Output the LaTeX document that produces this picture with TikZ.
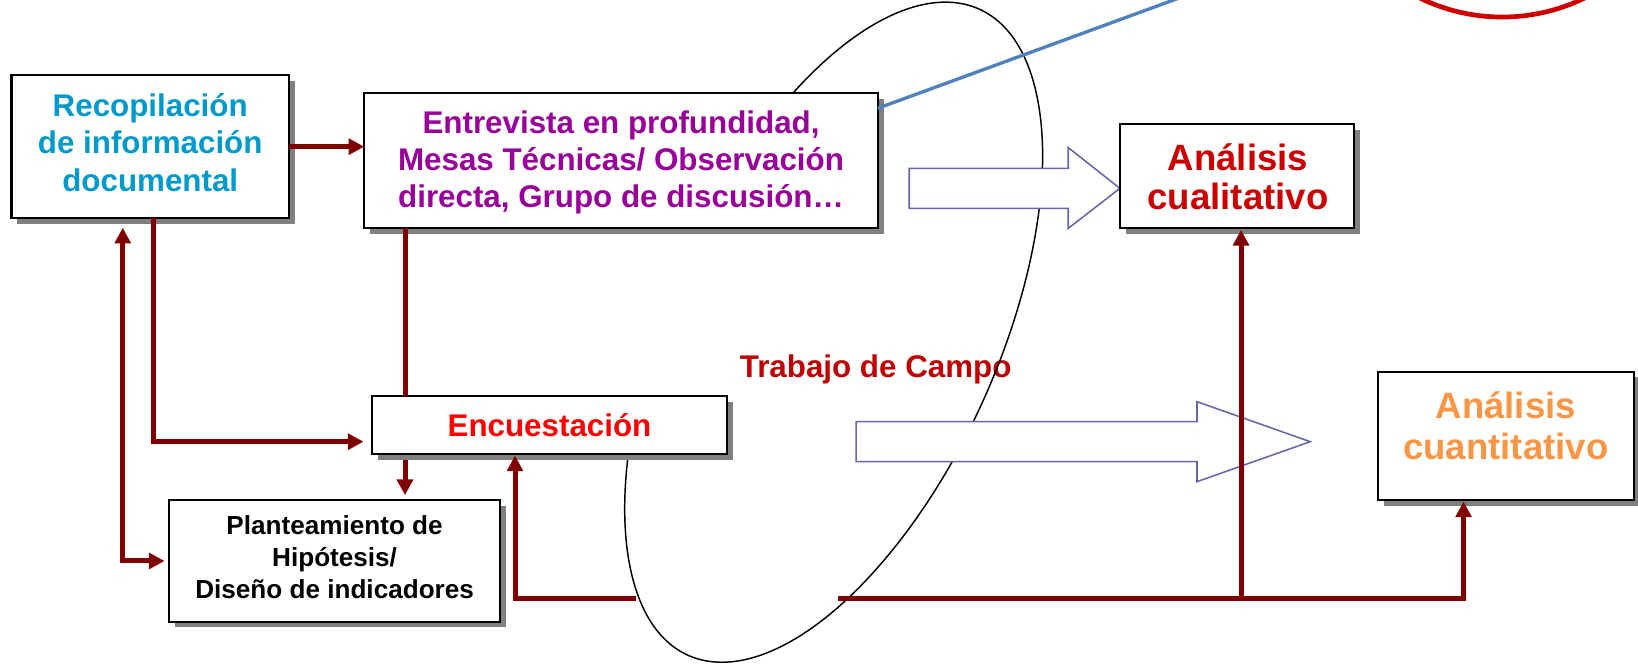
\documentclass[tikz,border=0pt]{standalone}
\usepackage{fontspec}
\setmainfont{Liberation Sans}
\usetikzlibrary{arrows.meta,shadows}
\definecolor{dred}{RGB}{128,0,0}
\definecolor{shadowgray}{RGB}{128,128,128}
\definecolor{recopc}{RGB}{0,153,204}
\definecolor{purp}{RGB}{153,0,153}
\definecolor{cualc}{RGB}{204,0,0}
\definecolor{trabc}{RGB}{192,0,0}
\definecolor{encuc}{RGB}{255,0,0}
\definecolor{cuanc}{RGB}{248,150,70}
\definecolor{hollowc}{RGB}{102,102,170}
\definecolor{bluec}{RGB}{79,129,189}
\definecolor{circc}{RGB}{208,0,0}
\begin{document}
\begin{tikzpicture}[x=1pt,y=-1pt,
  box/.style={draw=black, line width=2pt, fill=white, rectangle, inner sep=0pt, outer sep=0pt,
    drop shadow={shadow xshift=5.5pt, shadow yshift=-5.5pt, fill=shadowgray, opacity=1}},
  ln/.style={anchor=base, inner sep=0pt},
  f30/.style={font=\fontsize{30}{36}\selectfont\bfseries},
  f35/.style={font=\fontsize{35}{42}\selectfont\bfseries},
  f25/.style={font=\fontsize{25}{30}\selectfont\bfseries},
  conn/.style={draw=dred, line width=4.8pt},
  tip/.style={-{Triangle[length=15pt,width=15pt]}},
  hollow/.style={draw=hollowc, line width=1.5pt, fill=white, line join=miter}]
\useasboundingbox (0,0) rectangle (1568,635);
\clip (0,0) rectangle (1568,635);

% red circle (top right, mostly outside)
\draw[circc, line width=4.5pt] (1438,-163) circle[radius=179.3pt];

% label Trabajo de Campo
\node[ln, anchor=base west, text=trabc, f30] (trab) at (708,361) {Trabajo de Campo};

% field-work loop (tilted ellipse arc)
\begin{scope}[shift={(798,318)}, rotate=65.75]
\draw[black, line width=1.4pt] (58:339.2pt and 157.4pt)
  arc[start angle=58, end angle=-238, x radius=339.2pt, y radius=157.4pt];
\end{scope}

% hollow block arrows
\draw[hollow] (870.4,161.1) -- (1022.6,161.1) -- (1022.6,141.3) -- (1072,180.3)
  -- (1022.6,218.6) -- (1022.6,199.4) -- (870.4,199.4) -- cycle;
\draw[hollow] (819.6,403.6) -- (1145.8,403.6) -- (1145.8,384.5) -- (1254.2,422.8)
  -- (1145.8,461.1) -- (1145.8,441.9) -- (819.6,441.9) -- cycle;

% boxes
\node[box, minimum width=265.6pt, minimum height=137.2pt] (recop) at (143.8,140.4) {};
\node[box, minimum width=491.6pt, minimum height=128.7pt] (entre) at (594.5,153.7) {};
\node[box, minimum width=224pt, minimum height=99.3pt] (cual) at (1184,168.4) {};
\node[box, minimum width=245pt, minimum height=122.8pt] (cuan) at (1441.5,417.2) {};
\node[box, minimum width=340pt, minimum height=55.5pt] (encu) at (526,406.8) {};
\node[box, minimum width=317.5pt, minimum height=116pt] (plan) at (320.3,537) {};

% texts (one node per printed line)
\begin{scope}[every node/.append style={text=recopc, f30}]
\node[ln] (recop1) at (143.8,111.7) {Recopilación};
\node[ln] (recop2) at (143.8,147.4) {de información};
\node[ln] (recop3) at (143.8,183.5) {documental};
\end{scope}
\begin{scope}[every node/.append style={text=purp, f30}]
\node[ln] (entre1) at (594.5,128) {Entrevista en profundidad,};
\node[ln] (entre2) at (594.5,163.5) {Mesas Técnicas/ Observación};
\node[ln] (entre3) at (594.5,199) {directa, Grupo de discusión…};
\end{scope}
\node[ln, text=cualc, f35] (cual1) at (1185,163.4) {Análisis};
\node[ln, text=cualc, f35] (cual2) at (1185,200.1) {cualitativo};
\node[ln, text=cuanc, f35] (cuan1) at (1441.4,400.8) {Análisis};
\node[ln, text=cuanc, f35] (cuan2) at (1441.4,439.7) {cuantitativo};
\node[ln, text=encuc, f30] (encu1) at (526,418) {Encuestación};
\node[ln, text=black, f25] (plan1) at (320.3,512) {Planteamiento de};
\node[ln, text=black, f25] (plan2) at (320.3,542.5) {Hipótesis/};
\node[ln, text=black, f25] (plan3) at (320.3,573) {Diseño de indicadores};

% blue line to the outside
\coordinate (bl) at (1180,-20.7);
\draw[bluec, line width=3.2pt] ([yshift=-14.3pt]entre.north east) -- (bl);

% connector coordinates
\coordinate (cA) at (146.6,422.8);
\coordinate (cB) at (117.5,537);
\coordinate (cC) at (387.7,0);
\coordinate (cD) at (493,572.5);
\coordinate (gL) at (608.5,572.5);
\coordinate (gR) at (802,572.5);
\coordinate (cE) at (1401,572.5);
\coordinate (cF) at (1188,572.5);

% connectors
\draw[conn, tip] (recop.east) -- (recop.east -| entre.west);
\draw[conn, tip, shorten >=8pt] (recop.south -| cA) |- (encu.west |- cA);
\draw[conn, {Triangle[length=15pt,width=15pt]}-{Triangle[length=15pt,width=15pt]}, shorten <=9pt, shorten >=4pt]
  (recop.south -| cB) |- (plan.west);
\draw[conn] (entre.south -| cC) -- (encu.north -| cC);
\draw[conn, tip, shorten <=6pt, shorten >=5pt] (encu.south -| cC) -- (plan.north -| cC);
\draw[conn, tip, shorten >=1.5pt] (gL) -- (cD) -- (encu.south -| cD);
\draw[conn, tip, shorten >=1.5pt] (gR) -- (cE) -- (cuan.south -| cE);
\draw[conn, tip, shorten >=2pt] (cF) -- (cual.south -| cF);
\end{tikzpicture}
\end{document}
